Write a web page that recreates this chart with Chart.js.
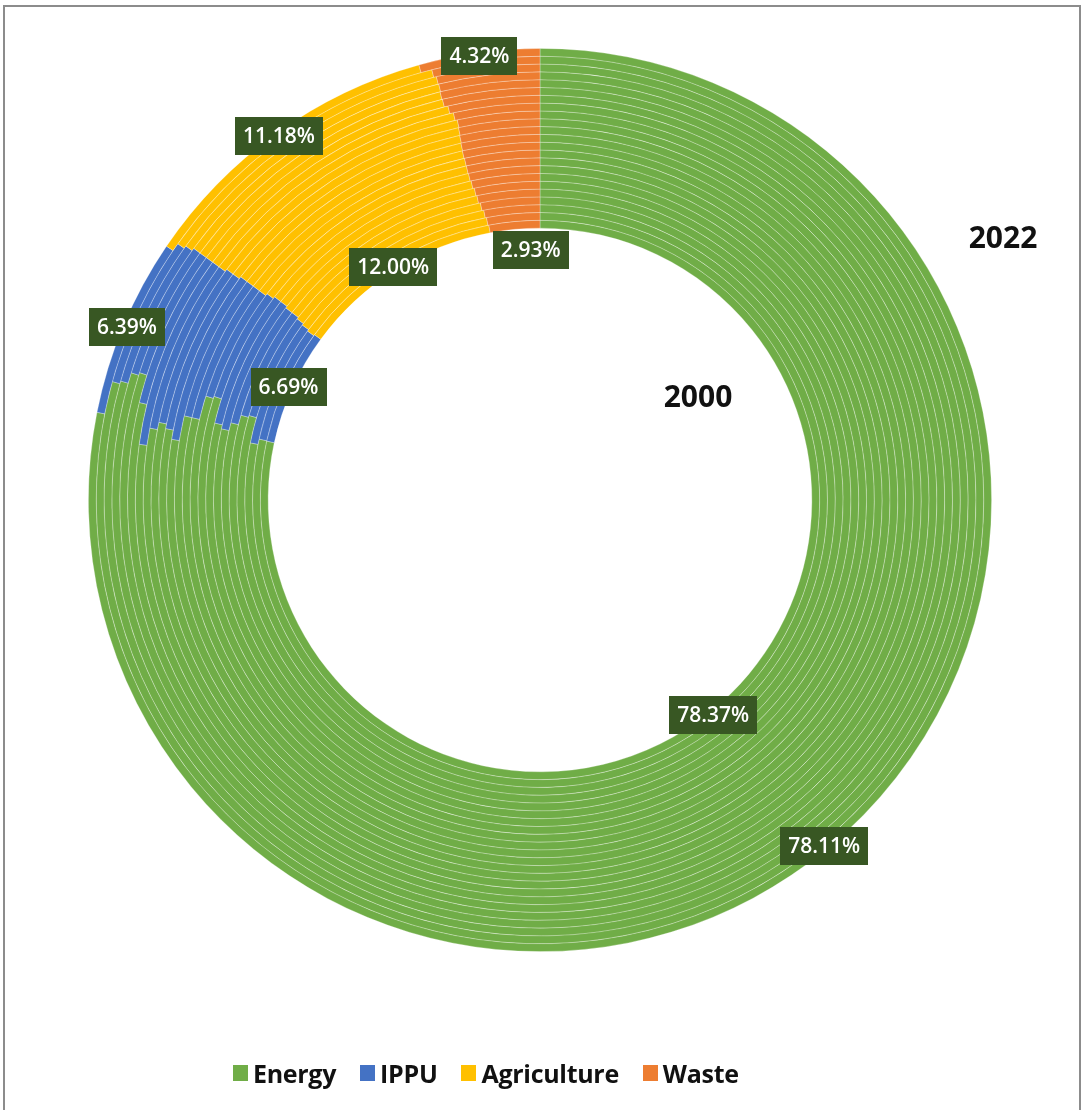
<!DOCTYPE html>
<html>
<head>
<meta charset="utf-8">
<script src="https://cdn.jsdelivr.net/npm/chart.js@4.4.1/dist/chart.umd.min.js"></script>
<style>
  html, body { margin: 0; padding: 0; background: #fff; }
  body { width: 1085px; height: 1110px; position: relative; overflow: hidden; font-family: "Open Sans", sans-serif; }
  #frame { position: absolute; left: 3px; top: 5px; width: 1078px; height: 1120px; border: 2px solid #8c8c8c; box-sizing: border-box; }
  #wrap { position: absolute; left: 0; top: 0; width: 1085px; height: 1110px; }
  .ring-title { position: absolute; font-weight: 700; font-size: 30px; color: #111; transform: translate(-50%, -50%); white-space: nowrap; }
  #legend { position: absolute; left: 233px; top: 1056px; display: flex; align-items: center; font-weight: 700; font-size: 25px; color: #111; letter-spacing: -0.3px; }
  #legend .item { display: flex; align-items: center; margin-right: 24px; }
  #legend .sw { width: 15px; height: 16px; margin-right: 5px; }
</style>
</head>
<body>
<div id="frame"></div>
<div id="wrap"><canvas id="c" width="1085" height="1110"></canvas></div>
<div class="ring-title" style="left:1003px; top:236px;">2022</div>
<div class="ring-title" style="left:698px; top:395px;">2000</div>
<div id="legend"></div>
<script>
// ---- data ----
const categories = ["Energy", "IPPU", "Agriculture", "Waste"];
const years = [2000, 2001, 2002, 2003, 2004, 2005, 2006, 2007, 2008, 2009, 2010, 2011,
               2012, 2013, 2014, 2015, 2016, 2017, 2018, 2019, 2020, 2021, 2022];
const energy      = [78.37, 78.40, 78.10, 79.50, 79.40, 78.90, 78.50, 78.70, 79.90, 79.80, 78.70, 78.70,
                     77.60, 78.00, 78.20, 77.90, 77.20, 78.80, 79.90, 79.80, 79.40, 79.30, 78.11];
const ippu        = [6.69, 6.60, 7.00, 5.70, 5.90, 6.40, 6.90, 6.70, 5.40, 5.40, 6.50, 6.50,
                     7.60, 7.10, 6.90, 7.10, 7.80, 6.20, 5.10, 5.20, 5.50, 5.50, 6.39];
const agriculture = [12.00, 12.02, 11.85, 11.65, 11.45, 11.40, 11.22, 11.17, 11.25, 11.34, 11.32, 11.33,
                     11.35, 11.47, 11.49, 11.50, 11.35, 11.20, 11.18, 11.20, 11.28, 11.28, 11.18];
const waste       = [2.93, 2.98, 3.05, 3.15, 3.25, 3.30, 3.38, 3.43, 3.45, 3.46, 3.48, 3.47,
                     3.45, 3.43, 3.41, 3.50, 3.65, 3.80, 3.82, 3.80, 3.82, 3.92, 4.32];
const colors = ["#70AD47", "#4472C4", "#FFC000", "#ED7D31"];

// outermost ring first (Chart.js draws dataset 0 outside)
const datasets = [];
for (let i = years.length - 1; i >= 0; i--) {
  datasets.push({
    label: String(years[i]),
    data: [energy[i], ippu[i], agriculture[i], waste[i]],
    backgroundColor: colors,
    borderColor: "rgba(255,255,255,0.35)",
    borderWidth: 0.8
  });
}

// labels only on outermost (2022) and innermost (2000) rings
const labelRings = [0, datasets.length - 1];
const nudge = { "22-3": [16, 25] };

const labelPlugin = {
  id: "boxLabels",
  afterDatasetsDraw(chart) {
    const ctx = chart.ctx;
    ctx.save();
    ctx.font = "600 21px 'Open Sans'";
    ctx.textAlign = "center";
    ctx.textBaseline = "middle";
    labelRings.forEach(di => {
      const meta = chart.getDatasetMeta(di);
      meta.data.forEach((arc, j) => {
        const p = arc.getCenterPoint();
        const n = nudge[di + "-" + j] || [0, 0];
        const x = p.x + n[0], y = p.y + n[1];
        const txt = chart.data.datasets[di].data[j].toFixed(2) + "%";
        const w = ctx.measureText(txt).width + 16;
        const h = 38;
        ctx.fillStyle = "#385723";
        ctx.fillRect(Math.round(x - w / 2), Math.round(y - h / 2), Math.round(w), h);
        ctx.fillStyle = "#ffffff";
        ctx.fillText(txt, x, y + 1);
      });
    });
    ctx.restore();
  }
};

new Chart(document.getElementById("c"), {
  type: "doughnut",
  data: { labels: categories, datasets },
  options: {
    responsive: false,
    animation: false,
    cutout: "60.2%",
    layout: { padding: { left: 88, right: 93, top: 48, bottom: 158 } },
    plugins: { legend: { display: false }, tooltip: { enabled: false } }
  },
  plugins: [labelPlugin]
});

// legend
const lg = document.getElementById("legend");
categories.forEach((c, i) => {
  const it = document.createElement("div");
  it.className = "item";
  it.innerHTML = '<span class="sw" style="background:' + colors[i] + '"></span><span>' + c + '</span>';
  lg.appendChild(it);
});
</script>
</body>
</html>
